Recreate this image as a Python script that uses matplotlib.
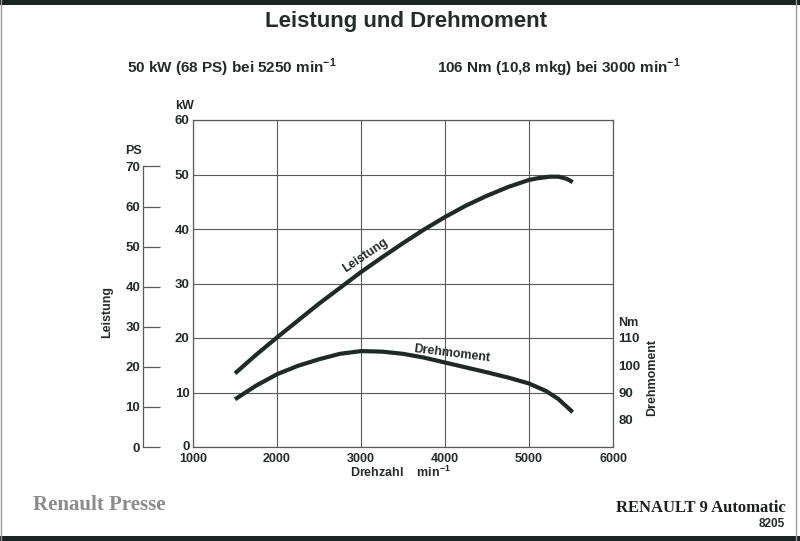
import matplotlib
matplotlib.use("Agg")
import matplotlib.pyplot as plt
from matplotlib.lines import Line2D
from matplotlib.patches import Rectangle
import matplotlib.transforms as mtransforms

plt.rcParams['font.family'] = ['Liberation Sans', 'DejaVu Sans']

# ---- data ----
rpm_power = [1500, 1750, 2000, 2250, 2500, 2750, 3000, 3250, 3500, 3750,
             4000, 4250, 4500, 4750, 5000, 5100, 5250, 5350, 5450, 5520]
power_kw = [13.5, 16.9, 20.1, 23.2, 26.3, 29.2, 32.1, 34.8, 37.4, 39.9,
            42.2, 44.3, 46.1, 47.7, 49.0, 49.3, 49.6, 49.6, 49.2, 48.6]

rpm_torque = [1500, 1750, 2000, 2250, 2500, 2750, 3000, 3250, 3500, 3750,
              4000, 4250, 4500, 4750, 5000, 5200, 5350, 5520]
torque_nm = [87.5, 92.5, 96.7, 99.8, 102.2, 104.2, 105.2, 105.0, 104.2, 102.8,
             101.0, 99.2, 97.4, 95.5, 93.3, 90.6, 87.6, 82.8]

x_ticks = [1000, 2000, 3000, 4000, 5000, 6000]
kw_ticks = [0, 10, 20, 30, 40, 50, 60]
ps_ticks = [0, 10, 20, 30, 40, 50, 60, 70]
nm_ticks = [80, 90, 100, 110]
PS_PER_KW = 1.36
NM_AT_ZERO_KW = 70
NM_PER_KW = 2

TXT = '#262b2a'
LINE = '#1f2a28'
GRID = '#5a5a5a'

W, H = 800, 541
fig = plt.figure(figsize=(8, 5.41), dpi=100)
fig.patch.set_facecolor('white')

def fx(px):
    return px / W

def fy(py):
    return 1 - py / H

# main axes (kW)
left, right, top, bottom = 193, 613, 120, 447
ax = fig.add_axes([fx(left), fy(bottom), (right - left) / W, (bottom - top) / H])
ax.set_xlim(1000, 6000)
ax.set_ylim(0, 60)
ax.set_xticks(x_ticks)
ax.set_yticks(kw_ticks)
ax.grid(True, color=GRID, lw=0.8)
for s in ax.spines.values():
    s.set_color(GRID)
    s.set_linewidth(0.9)
ax.tick_params(axis='x', length=0, pad=4.0, labelsize=9, labelcolor=TXT)
ax.tick_params(axis='y', length=0, pad=2.5, labelsize=9.5, labelcolor=TXT)
for lab in ax.get_xticklabels() + ax.get_yticklabels():
    lab.set_fontweight('bold')
# lift the "0" kW label slightly so it clears the "1000" label
zero_lab = ax.get_yticklabels()[0]
zero_lab.set_transform(zero_lab.get_transform() +
                       mtransforms.ScaledTranslation(0, 2 / 100, fig.dpi_scale_trans))

ax.plot(rpm_power, power_kw, color=LINE, lw=3.0, solid_capstyle='butt', zorder=5)

# torque axis (right)
axn = ax.twinx()
axn.set_ylim(NM_AT_ZERO_KW, NM_AT_ZERO_KW + NM_PER_KW * 60)
axn.set_yticks(nm_ticks)
for s in axn.spines.values():
    s.set_visible(False)
axn.tick_params(axis='y', length=0, pad=4, labelsize=9.5, labelcolor=TXT)
for lab in axn.get_yticklabels():
    lab.set_fontweight('bold')
axn.plot(rpm_torque, torque_nm, color=LINE, lw=3.0, solid_capstyle='butt', zorder=5)

# PS axis (separate, far left)
axp = fig.add_axes([fx(143), fy(bottom), 0.0001, (bottom - top) / H])
axp.patch.set_visible(False)
axp.set_ylim(0, 60 * PS_PER_KW)
axp.set_yticks(ps_ticks)
axp.set_xticks([])
for k in ['right', 'top', 'bottom']:
    axp.spines[k].set_visible(False)
axp.spines['left'].set_bounds(0, 70)
axp.spines['left'].set_color(GRID)
axp.spines['left'].set_linewidth(0.9)
axp.tick_params(axis='y', direction='in', length=12.5, width=0.9, color=GRID,
                pad=2, labelsize=9.5, labelcolor=TXT)
for lab in axp.get_yticklabels():
    lab.set_fontweight('bold')

# curve labels
ax.text(3050, 35.2, 'Leistung', rotation=34, rotation_mode='anchor',
        ha='center', va='center', fontsize=9, fontweight='bold', color=TXT)
axn.text(4080, 104.2, 'Drehmoment', rotation=-7, rotation_mode='anchor',
         ha='center', va='center', fontsize=9, fontweight='bold', color=TXT)

# axis unit labels
fig.text(fx(185), fy(106), 'kW', ha='center', va='center', fontsize=9, fontweight='bold', color=TXT)
fig.text(fx(134), fy(151), 'PS', ha='center', va='center', fontsize=9, fontweight='bold', color=TXT)
fig.text(fx(628), fy(323), 'Nm', ha='center', va='center', fontsize=9, fontweight='bold', color=TXT)
fig.text(fx(107), fy(312), 'Leistung', rotation=90, ha='center', va='center',
         fontsize=9, fontweight='bold', color=TXT)
fig.text(fx(652), fy(377), 'Drehmoment', rotation=90, ha='center', va='center',
         fontsize=9, fontweight='bold', color=TXT)
fig.text(fx(400), fy(477), r'Drehzahl    min$^{\mathregular{-1}}$', ha='center', va='baseline',
         fontsize=9, fontweight='bold', color=TXT)

# titles
fig.text(fx(406), fy(21), 'Leistung und Drehmoment', ha='center', va='center',
         fontsize=16, fontweight='bold', color=TXT)
fig.text(fx(127), fy(68), r'50 kW (68 PS) bei 5250 min$^{\mathregular{-1}}$', ha='left', va='center',
         fontsize=11, fontweight='bold', color=TXT)
fig.text(fx(437), fy(68), r'106 Nm (10,8 mkg) bei 3000 min$^{\mathregular{-1}}$', ha='left', va='center',
         fontsize=11, fontweight='bold', color=TXT)

# footer
fig.text(fx(33), fy(505), 'Renault Presse', ha='left', va='center', fontsize=15,
         fontweight='bold', color='#8a8c8b', family=['Liberation Serif', 'DejaVu Serif'])
fig.text(fx(786), fy(508), 'RENAULT 9 Automatic', ha='right', va='center', fontsize=12,
         fontweight='bold', color='#1c1f1e', family=['Liberation Serif', 'DejaVu Serif'])
fig.text(fx(785), fy(524), '8205', ha='right', va='center', fontsize=8.5,
         fontweight='bold', color=TXT)

# photo border decoration
fig.patches.append(Rectangle((0, 1 - 5 / H), 1, 5 / H, transform=fig.transFigure,
                             facecolor='#1a2422', edgecolor='none'))
fig.patches.append(Rectangle((0, 0), 1, 5 / H, transform=fig.transFigure,
                             facecolor='#1a2422', edgecolor='none'))
fig.lines.append(Line2D([fx(796), fx(796)], [0, 1], transform=fig.transFigure,
                        color='#9a9a9a', lw=1))
fig.lines.append(Line2D([fx(1), fx(1)], [0, 1], transform=fig.transFigure,
                        color='#9a9a9a', lw=1))

fig.savefig('out.png', dpi=100)
